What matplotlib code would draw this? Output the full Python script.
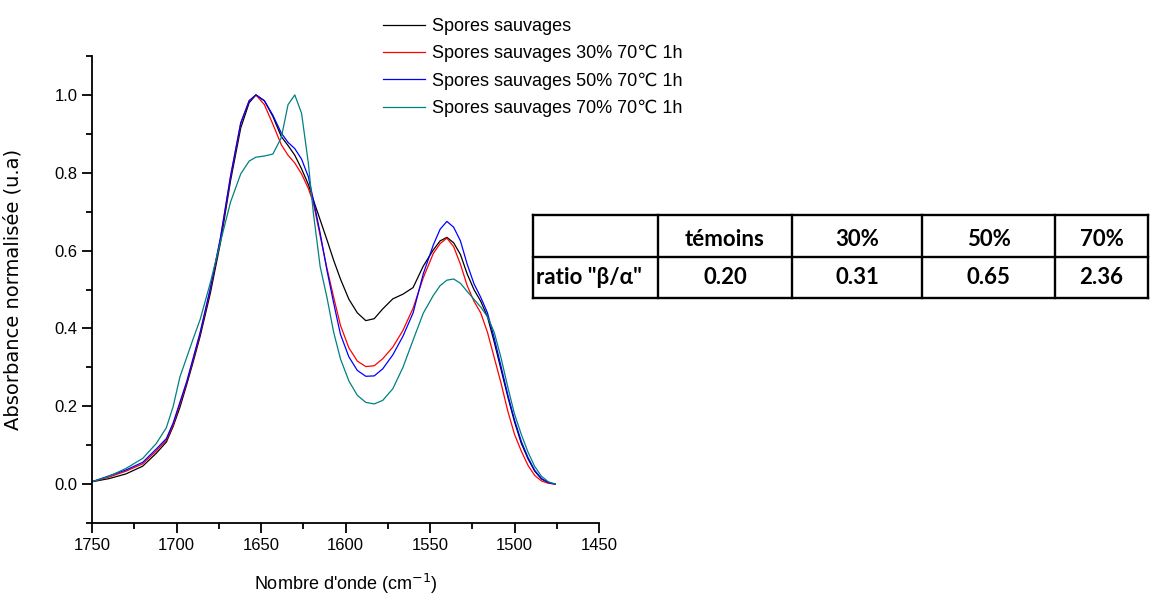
import numpy as np
import matplotlib
matplotlib.use("Agg")
import matplotlib.pyplot as plt
from matplotlib.ticker import MultipleLocator

plt.rcParams['font.family'] = ['Liberation Sans', 'DejaVu Sans']

# Nombre d'onde (cm-1)
wn = [1750, 1740, 1730, 1720, 1712, 1706, 1702, 1698, 1694, 1690, 1686, 1680,
      1674, 1668, 1662, 1657, 1653, 1648, 1643, 1638, 1634, 1630, 1626, 1622,
      1619, 1615, 1611, 1607, 1603, 1598, 1593, 1588, 1583, 1578, 1572, 1566,
      1560, 1554, 1548, 1544, 1540, 1536, 1532, 1528, 1524, 1520, 1516, 1512,
      1508, 1504, 1500, 1496, 1492, 1488, 1484, 1480, 1476]

# Absorbance normalisée
sauvages = [0.006, 0.014, 0.026, 0.046, 0.079, 0.108, 0.148, 0.197, 0.255, 0.316, 0.380, 0.490,
            0.620, 0.780, 0.915, 0.980, 1.000, 0.985, 0.945, 0.893, 0.870, 0.845, 0.810, 0.770,
            0.730, 0.679, 0.628, 0.575, 0.527, 0.475, 0.440, 0.420, 0.425, 0.450, 0.476, 0.488,
            0.505, 0.560, 0.602, 0.625, 0.634, 0.620, 0.590, 0.540, 0.500, 0.470, 0.430, 0.365,
            0.295, 0.225, 0.160, 0.105, 0.065, 0.033, 0.013, 0.004, 0.000]
sauvages_30 = [0.006, 0.018, 0.033, 0.052, 0.085, 0.113, 0.152, 0.205, 0.260, 0.322, 0.387, 0.500,
               0.630, 0.790, 0.927, 0.985, 1.000, 0.975, 0.925, 0.872, 0.845, 0.825, 0.797, 0.760,
               0.722, 0.638, 0.555, 0.480, 0.408, 0.350, 0.316, 0.302, 0.304, 0.322, 0.352, 0.395,
               0.452, 0.530, 0.593, 0.618, 0.632, 0.610, 0.565, 0.510, 0.470, 0.440, 0.390, 0.325,
               0.260, 0.188, 0.128, 0.085, 0.048, 0.022, 0.008, 0.002, 0.000]
sauvages_50 = [0.006, 0.021, 0.036, 0.056, 0.090, 0.117, 0.157, 0.210, 0.263, 0.326, 0.390, 0.503,
               0.633, 0.792, 0.928, 0.985, 1.000, 0.985, 0.948, 0.902, 0.878, 0.862, 0.835, 0.790,
               0.730, 0.645, 0.550, 0.465, 0.385, 0.327, 0.292, 0.277, 0.278, 0.296, 0.332, 0.380,
               0.440, 0.540, 0.615, 0.655, 0.675, 0.660, 0.625, 0.565, 0.515, 0.480, 0.440, 0.375,
               0.303, 0.230, 0.165, 0.110, 0.068, 0.035, 0.014, 0.004, 0.000]
sauvages_70 = [0.006, 0.020, 0.040, 0.066, 0.104, 0.145, 0.199, 0.275, 0.325, 0.375, 0.423, 0.517,
               0.622, 0.725, 0.797, 0.830, 0.840, 0.843, 0.848, 0.890, 0.975, 1.000, 0.953, 0.825,
               0.696, 0.559, 0.480, 0.390, 0.322, 0.265, 0.228, 0.210, 0.206, 0.215, 0.245, 0.300,
               0.370, 0.439, 0.485, 0.510, 0.524, 0.527, 0.516, 0.495, 0.475, 0.455, 0.430, 0.390,
               0.325, 0.250, 0.180, 0.128, 0.082, 0.045, 0.020, 0.006, 0.000]

series = [sauvages, sauvages_30, sauvages_50, sauvages_70]
labels = ['Spores sauvages', 'Spores sauvages 30% 70℃ 1h',
          'Spores sauvages 50% 70℃ 1h', 'Spores sauvages 70% 70℃ 1h']
colors = ['black', '#FF0000', '#0000FF', '#008080']

# Tableau des ratios
col_labels = ['', 'témoins', '30%', '50%', '70%']
ratio_label = 'ratio "β/α"'
ratios = ['0.20', '0.31', '0.65', '2.36']

fig = plt.figure(figsize=(11.52, 5.94), dpi=100)
ax = fig.add_axes([92 / 1152, 1 - 523 / 594, 507 / 1152, 467 / 594])

for y, lab, c in zip(series, labels, colors):
    ax.plot(wn, y, color=c, lw=0.9, label=lab)

ax.set_xlim(1750, 1450)
ax.set_ylim(-0.1, 1.1)
ax.xaxis.set_major_locator(MultipleLocator(50))
ax.xaxis.set_minor_locator(MultipleLocator(25))
ax.yaxis.set_major_locator(MultipleLocator(0.2))
ax.yaxis.set_minor_locator(MultipleLocator(0.1))
ax.yaxis.set_major_formatter(matplotlib.ticker.FormatStrFormatter('%.1f'))
ax.tick_params(which='major', direction='out', length=7, width=1.3, labelsize=12)
ax.tick_params(which='minor', direction='out', length=4, width=1.3)
for s in ['top', 'right']:
    ax.spines[s].set_visible(False)
for s in ['left', 'bottom']:
    ax.spines[s].set_linewidth(1.3)

ax.set_xlabel("Nombre d'onde (cm$^{-1}$)", fontsize=13, labelpad=14)
ax.set_ylabel('Absorbance normalisée (u.a)', fontsize=14, family='DejaVu Sans')
ax.yaxis.set_label_coords(-(92 - 23) / 507, 0.5)

fig.legend(loc='upper left', bbox_to_anchor=(383 / 1152, 1 - 18 / 594),
           frameon=False, fontsize=13, handlelength=2.3, handletextpad=0.4,
           labelspacing=0.55, borderpad=0, borderaxespad=0)

# tableau (coordonnées en pixels de la figure)
tax = fig.add_axes([0, 0, 1, 1])
tax.set_xlim(0, 1152)
tax.set_ylim(594, 0)
tax.axis('off')
col_edges = [533, 658, 792, 922, 1055, 1148]
row_edges = [215, 257, 298]
for x in col_edges:
    tax.plot([x, x], [row_edges[0], row_edges[-1]], color='black', lw=1.7,
             solid_capstyle='projecting')
for y in row_edges:
    tax.plot([col_edges[0], col_edges[-1]], [y, y], color='black', lw=1.7,
             solid_capstyle='projecting')

tfont = dict(fontsize=16, fontweight='bold', family=['Lato', 'DejaVu Sans'])
for i, txt in enumerate(col_labels):
    xc = (col_edges[i] + col_edges[i + 1]) / 2
    tax.text(xc, 246, txt, ha='center', va='baseline', **tfont)
tax.text(col_edges[0] + 3, 284, ratio_label, ha='left', va='baseline', **tfont)
for i, txt in enumerate(ratios):
    xc = (col_edges[i + 1] + col_edges[i + 2]) / 2
    tax.text(xc, 284, txt, ha='center', va='baseline', **tfont)

fig.savefig('out.png', dpi=100)
